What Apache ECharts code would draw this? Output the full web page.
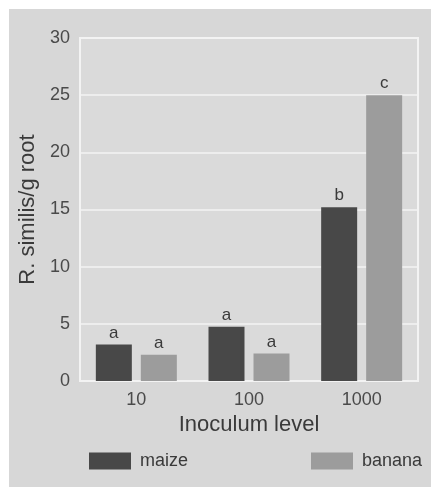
<!DOCTYPE html>
<html><head><meta charset="utf-8">
<script src="https://cdn.jsdelivr.net/npm/echarts@6/dist/echarts.min.js"></script>
<style>html,body{margin:0;padding:0;background:#fff}#c{width:431px;height:487px}</style>
</head><body><div id="c"></div>
<script>
const categories = ['10', '100', '1000'];
const maize = [3.2, 4.75, 15.2];
const banana = [2.3, 2.4, 25.0];
const maizeLetters = ['a', 'a', 'b'];
const bananaLetters = ['a', 'a', 'c'];
const yTicks = [0, 5, 10, 15, 20, 25, 30];

const font = 'Liberation Sans, Arial, sans-serif';
const chart = echarts.init(document.getElementById('c'));
const lab = (letters) => ({
  show: true, position: 'top', distance: 3, color: '#3a3a3a', fontSize: 17, fontFamily: font,
  formatter: p => letters[p.dataIndex]
});
const legText = { color: '#3a3a3a', fontSize: 18, fontFamily: font, padding: [0, 0, 0, 4] };
chart.setOption({
  backgroundColor: '#ffffff',
  animation: false,
  graphic: [{ type: 'rect', left: 9, top: 9, shape: { width: 422, height: 478 }, style: { fill: '#d7d7d7' }, z: -10 }],
  grid: { left: 80, right: 13, top: 38, bottom: 106, show: true, backgroundColor: '#dadada', borderColor: '#f3f3f3', borderWidth: 2 },
  legend: [
    { data: ['maize'], icon: 'rect', left: 84, top: 447, itemWidth: 42, itemHeight: 17, textStyle: legText },
    { data: ['banana'], icon: 'rect', left: 306, top: 447, itemWidth: 42, itemHeight: 17, textStyle: legText }
  ],
  xAxis: {
    type: 'category', data: categories,
    name: 'Inoculum level', nameLocation: 'middle', nameGap: 33,
    nameTextStyle: { color: '#3a3a3a', fontSize: 22, fontFamily: font },
    axisLine: { lineStyle: { color: '#f3f3f3', width: 2 } },
    axisTick: { show: false },
    axisLabel: { color: '#4a4a4a', fontSize: 18, fontFamily: font, margin: 10 }
  },
  yAxis: {
    type: 'value', min: 0, max: 30, interval: 5,
    name: 'R. similis/g root', nameLocation: 'middle', nameGap: 36,
    nameTextStyle: { color: '#3a3a3a', fontSize: 22, fontFamily: font },
    axisLine: { show: true, lineStyle: { color: '#f3f3f3', width: 2 } },
    axisTick: { show: false },
    splitLine: { lineStyle: { color: '#f3f3f3', width: 1.5 } },
    axisLabel: { color: '#4a4a4a', fontSize: 18, fontFamily: font, margin: 10,
      formatter: v => yTicks.includes(v) ? String(v) : '' }
  },
  series: [
    { name: 'maize', type: 'bar', data: maize, barWidth: 36, barGap: '25%',
      itemStyle: { color: '#484848' }, label: lab(maizeLetters) },
    { name: 'banana', type: 'bar', data: banana, barWidth: 36,
      itemStyle: { color: '#9c9c9c' }, label: lab(bananaLetters) }
  ]
});
</script></body></html>
